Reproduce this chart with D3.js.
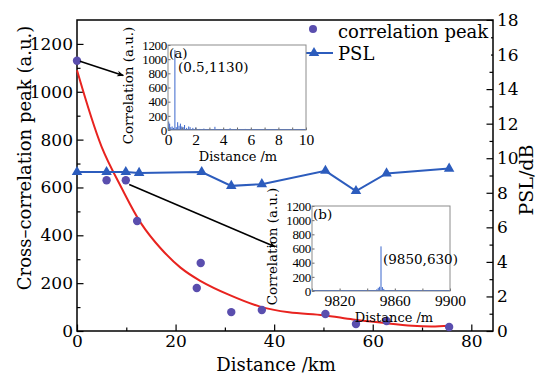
<!DOCTYPE html>
<html>
<head>
<meta charset="utf-8">
<script src="https://cdn.jsdelivr.net/npm/d3@7"></script>
<style>
body { margin: 0; background: #fff; }
svg { display: block; }
.main text { font-family: "DejaVu Serif", serif; fill: #000; }
.inset text { font-family: "DejaVu Serif", serif; fill: #000; }
</style>
</head>
<body>
<script>
// correlation peak vs fibre length
var peakKm = [0, 6.0, 9.9, 12.2, 24.3, 25.1, 31.3, 37.5, 50.4, 56.6, 62.8, 75.5];
var peakVals = [1130, 630, 630, 460, 180, 284, 79, 88, 71, 29, 42, 17];

// PSL
var pslKm = [0, 6.0, 9.9, 12.6, 25.3, 31.3, 37.5, 50.4, 56.6, 62.8, 75.5];
var pslVals = [9.2, 9.2, 9.2, 9.15, 9.2, 8.4, 8.5, 9.27, 8.1, 9.12, 9.4];

// fitted curve
var fitKm = [0, 5, 9, 13, 17, 21, 25, 31, 37, 43, 50, 56, 62, 68, 72, 75.5];
var fitVals = [1090, 770, 600, 450, 345, 265, 210, 150, 103, 78, 66, 48, 34, 22, 19, 22];

// inset (a): correlation trace, 0-10 m
var insetAX = [0.05, 0.12, 0.2, 0.3, 0.4, 0.5, 0.6, 0.7, 0.8, 0.9, 1.0, 1.1, 1.2, 1.35, 1.5, 1.6, 1.8, 2.0, 2.3, 2.6, 3.0, 3.4, 3.8, 4.5, 5.0, 5.6, 6.2, 7.0, 7.6, 8.4, 9.2];
var insetAY = [120, 90, 40, 50, 30, 1130, 40, 110, 60, 90, 50, 40, 70, 30, 50, 40, 30, 35, 15, 20, 15, 45, 10, 25, 10, 15, 10, 15, 10, 10, 10];

// inset (b): correlation trace around 9850 m
var insetBX = [9846, 9847, 9848, 9849, 9850, 9851, 9852, 9853];
var insetBY = [10, 25, 45, 60, 630, 55, 30, 12];

var xTicks = [0, 20, 40, 60, 80];
var yLeftTicks = [0, 200, 400, 600, 800, 1000, 1200];
var yRightTicks = [0, 2, 4, 6, 8, 10, 12, 14, 16, 18];
var insetYTicks = [0, 200, 400, 600, 800, 1000, 1200];
var insetATicks = [0, 2, 4, 6, 8, 10];
var insetBTicks = [9820, 9860, 9900];

var width = 539, height = 376;
var margin = {top: 20, left: 77, right: 46, bottom: 45};

var purple = "#5a4eae", blue = "#2c5cbd", red = "#e8231f", traceBlue = "#3b66cc";
var fmt = d3.format("d");

var svg = d3.select("body").append("svg")
    .attr("width", width)
    .attr("height", height);

svg.append("defs").append("marker")
    .attr("id", "arrow")
    .attr("viewBox", "0 0 10 10")
    .attr("refX", 9).attr("refY", 5)
    .attr("markerWidth", 7).attr("markerHeight", 7)
    .attr("markerUnits", "userSpaceOnUse")
    .attr("orient", "auto")
  .append("path")
    .attr("d", "M0,1 L10,5 L0,9 L3,5 Z")
    .attr("fill", "#000");

var x = d3.scaleLinear().domain([0, 84.4]).range([margin.left, width - margin.right]);
var yL = d3.scaleLinear().domain([0, 1300]).range([height - margin.bottom, margin.top]);
var yR = d3.scaleLinear().domain([0, 18]).range([height - margin.bottom, margin.top]);

var main = svg.append("g").attr("class", "main");

// axes, ticks pointing inward
function styleAxis(g) {
    g.select(".domain").remove();
    g.selectAll("line").attr("stroke", "#000").attr("stroke-width", 1.2);
    g.selectAll("text").style("font-size", "17px").style("font-family", "DejaVu Serif");
}

main.append("g")
    .attr("transform", "translate(0," + yL(0) + ")")
    .call(d3.axisBottom(x).tickValues([10, 30, 50, 70]).tickSize(-3.5).tickFormat(""))
    .call(styleAxis);
main.append("g")
    .attr("transform", "translate(0," + yL(0) + ")")
    .call(d3.axisBottom(x).tickValues(xTicks).tickSize(-6.5).tickPadding(4).tickFormat(fmt))
    .call(styleAxis);

main.append("g")
    .attr("transform", "translate(" + x(0) + ",0)")
    .call(d3.axisLeft(yL).tickValues(d3.range(100, 1300, 200)).tickSize(-3.5).tickFormat(""))
    .call(styleAxis);
main.append("g")
    .attr("transform", "translate(" + x(0) + ",0)")
    .call(d3.axisLeft(yL).tickValues(yLeftTicks).tickSize(-6.5).tickPadding(4).tickFormat(fmt))
    .call(styleAxis);

main.append("g")
    .attr("transform", "translate(" + x.range()[1] + ",0)")
    .call(d3.axisRight(yR).tickValues(d3.range(1, 18, 2)).tickSize(-3.5).tickFormat(""))
    .call(styleAxis);
main.append("g")
    .attr("transform", "translate(" + x.range()[1] + ",0)")
    .call(d3.axisRight(yR).tickValues(yRightTicks).tickSize(-6.5).tickPadding(4).tickFormat(fmt))
    .call(styleAxis);

main.append("rect")
    .attr("x", x.range()[0]).attr("y", yL.range()[1])
    .attr("width", x.range()[1] - x.range()[0])
    .attr("height", yL.range()[0] - yL.range()[1])
    .attr("fill", "none").attr("stroke", "#000").attr("stroke-width", 1.5);

// axis titles
main.append("text")
    .attr("transform", "translate(31,158) rotate(-90)")
    .attr("text-anchor", "middle")
    .style("font-size", "18px")
    .text("Cross\u2013correlation peak (a.u.)");
main.append("text")
    .attr("x", 276).attr("y", 371)
    .attr("text-anchor", "middle")
    .style("font-size", "18px")
    .text("Distance /km");
main.append("text")
    .attr("transform", "translate(533,180) rotate(-90)")
    .attr("text-anchor", "middle")
    .style("font-size", "19px")
    .text("PSL/dB");

// insets
function drawInset(o) {
    var g = svg.append("g").attr("class", "inset");
    var ix = d3.scaleLinear().domain(o.xDomain).range([o.x0, o.x1]);
    var iy = d3.scaleLinear().domain([0, 1200]).range([o.y1, o.y0]);

    g.append("rect")
        .attr("x", o.x0).attr("y", o.y0)
        .attr("width", o.x1 - o.x0).attr("height", o.y1 - o.y0)
        .attr("fill", "#fff");

    g.selectAll("line.bar").data(o.xs)
        .enter().append("line")
        .attr("class", "bar")
        .attr("x1", function(d) { return ix(d); })
        .attr("x2", function(d) { return ix(d); })
        .attr("y1", iy(0))
        .attr("y2", function(d, i) { return iy(o.ys[i]); })
        .attr("stroke", traceBlue).attr("stroke-width", 1);
    g.append("line")
        .attr("x1", o.x0).attr("x2", o.x1)
        .attr("y1", iy(0) - 0.5).attr("y2", iy(0) - 0.5)
        .attr("stroke", traceBlue).attr("stroke-width", 1);

    var xa = g.append("g")
        .attr("transform", "translate(0," + o.y1 + ")")
        .call(d3.axisBottom(ix).tickValues(o.minorTicks).tickSize(-2.5).tickFormat(""));
    xa.select(".domain").remove();
    xa.selectAll("line").attr("stroke", "#666");

    var xl = g.append("g")
        .attr("transform", "translate(0," + o.y1 + ")")
        .call(d3.axisBottom(ix).tickValues(o.xTicks).tickSize(-2.5).tickPadding(4).tickFormat(fmt));
    xl.select(".domain").remove();
    xl.selectAll("line").attr("stroke", "#666");
    xl.selectAll("text").style("font-size", "15.5px").style("font-family", "Liberation Serif");

    var yl = g.append("g")
        .attr("transform", "translate(" + o.x0 + ",0)")
        .call(d3.axisLeft(iy).tickValues(insetYTicks).tickSize(-2.5).tickPadding(1).tickFormat(fmt));
    yl.select(".domain").remove();
    yl.selectAll("line").attr("stroke", "#666");
    yl.selectAll("text").style("font-size", "13px").style("font-family", "Liberation Serif")
        .attr("letter-spacing", "-0.3");

    g.append("rect")
        .attr("x", o.x0).attr("y", o.y0)
        .attr("width", o.x1 - o.x0).attr("height", o.y1 - o.y0)
        .attr("fill", "none").attr("stroke", "#8c8c8c").attr("stroke-width", 1);

    g.append("text")
        .attr("x", o.x0 + 1).attr("y", o.y0 + 13)
        .style("font-size", "13.5px")
        .text(o.tag);
    g.append("text")
        .attr("x", ix(o.peak[0]) + o.peakDx).attr("y", iy(o.peak[1]) + o.peakDy)
        .style("font-size", "13.5px")
        .text("(" + o.peak[0] + "," + o.peak[1] + ")");

    g.append("text")
        .attr("x", o.titleX).attr("y", o.y1 + 31)
        .attr("text-anchor", "middle")
        .style("font-size", "13px")
        .text("Distance /m");
    g.append("text")
        .attr("transform", "translate(" + (o.x0 - 35) + "," + ((o.y0 + o.y1) / 2 - 2) + ") rotate(-90)")
        .attr("text-anchor", "middle")
        .style("font-size", "13.4px")
        .text("Correlation (a.u.)");
}

drawInset({
    x0: 168, x1: 306, y0: 45, y1: 130,
    xDomain: [0, 10], xTicks: insetATicks, minorTicks: [1, 3, 5, 7, 9],
    xs: insetAX, ys: insetAY, tag: "(a)",
    peak: [0.5, 1130], peakDx: 3, peakDy: 22,
    titleX: 238
});
drawInset({
    x0: 312, x1: 450, y0: 206, y1: 291,
    xDomain: [9800, 9900], xTicks: insetBTicks, minorTicks: [9800, 9840, 9880],
    xs: insetBX, ys: insetBY, tag: "(b)",
    peak: [9850, 630], peakDx: 2, peakDy: 18,
    titleX: 394
});

// fitted curve
var fitLine = d3.line()
    .x(function(d, i) { return x(fitKm[i]); })
    .y(function(d) { return yL(d); })
    .curve(d3.curveCatmullRom);
main.append("path")
    .datum(fitVals)
    .attr("d", fitLine)
    .attr("fill", "none").attr("stroke", red).attr("stroke-width", 2);

// PSL line + triangles
var pslLine = d3.line()
    .x(function(d, i) { return x(pslKm[i]); })
    .y(function(d) { return yR(d); });
main.append("path")
    .datum(pslVals)
    .attr("d", pslLine)
    .attr("fill", "none").attr("stroke", blue).attr("stroke-width", 2);
var tri = d3.symbol().type(d3.symbolTriangle).size(48);
main.selectAll("path.tri").data(pslVals)
    .enter().append("path")
    .attr("class", "tri")
    .attr("d", tri)
    .attr("transform", function(d, i) { return "translate(" + x(pslKm[i]) + "," + yR(d) + ")"; })
    .attr("fill", blue);

// peak dots
main.selectAll("circle.dot").data(peakVals)
    .enter().append("circle")
    .attr("class", "dot")
    .attr("r", 4.2)
    .attr("cx", function(d, i) { return x(peakKm[i]); })
    .attr("cy", function(d) { return yL(d); })
    .attr("fill", purple);

// arrows from points to insets
var arrows = [
    {from: [0.6, 1128], to: [9.4, 1068]},
    {from: [10.6, 612], to: [40.2, 352]}
];
main.selectAll("line.arrow").data(arrows)
    .enter().append("line")
    .attr("class", "arrow")
    .attr("x1", function(d) { return x(d.from[0]); })
    .attr("y1", function(d) { return yL(d.from[1]); })
    .attr("x2", function(d) { return x(d.to[0]); })
    .attr("y2", function(d) { return yL(d.to[1]); })
    .attr("stroke", "#000").attr("stroke-width", 1.6)
    .attr("marker-end", "url(#arrow)");

// legend
var lg = main.append("g");
lg.append("rect")
    .attr("x", 293).attr("y", 21).attr("width", 198).attr("height", 41)
    .attr("fill", "#fff");
lg.append("circle").attr("cx", 313).attr("cy", 29).attr("r", 4).attr("fill", purple);
lg.append("text").attr("x", 338).attr("y", 38).style("font-size", "18px").text("correlation peak");
lg.append("line").attr("x1", 295).attr("x2", 333).attr("y1", 53).attr("y2", 53)
    .attr("stroke", blue).attr("stroke-width", 2);
lg.append("path").attr("d", tri).attr("transform", "translate(314,53)").attr("fill", blue);
lg.append("text").attr("x", 338).attr("y", 60).style("font-size", "18px").text("PSL");
</script>
</body>
</html>
